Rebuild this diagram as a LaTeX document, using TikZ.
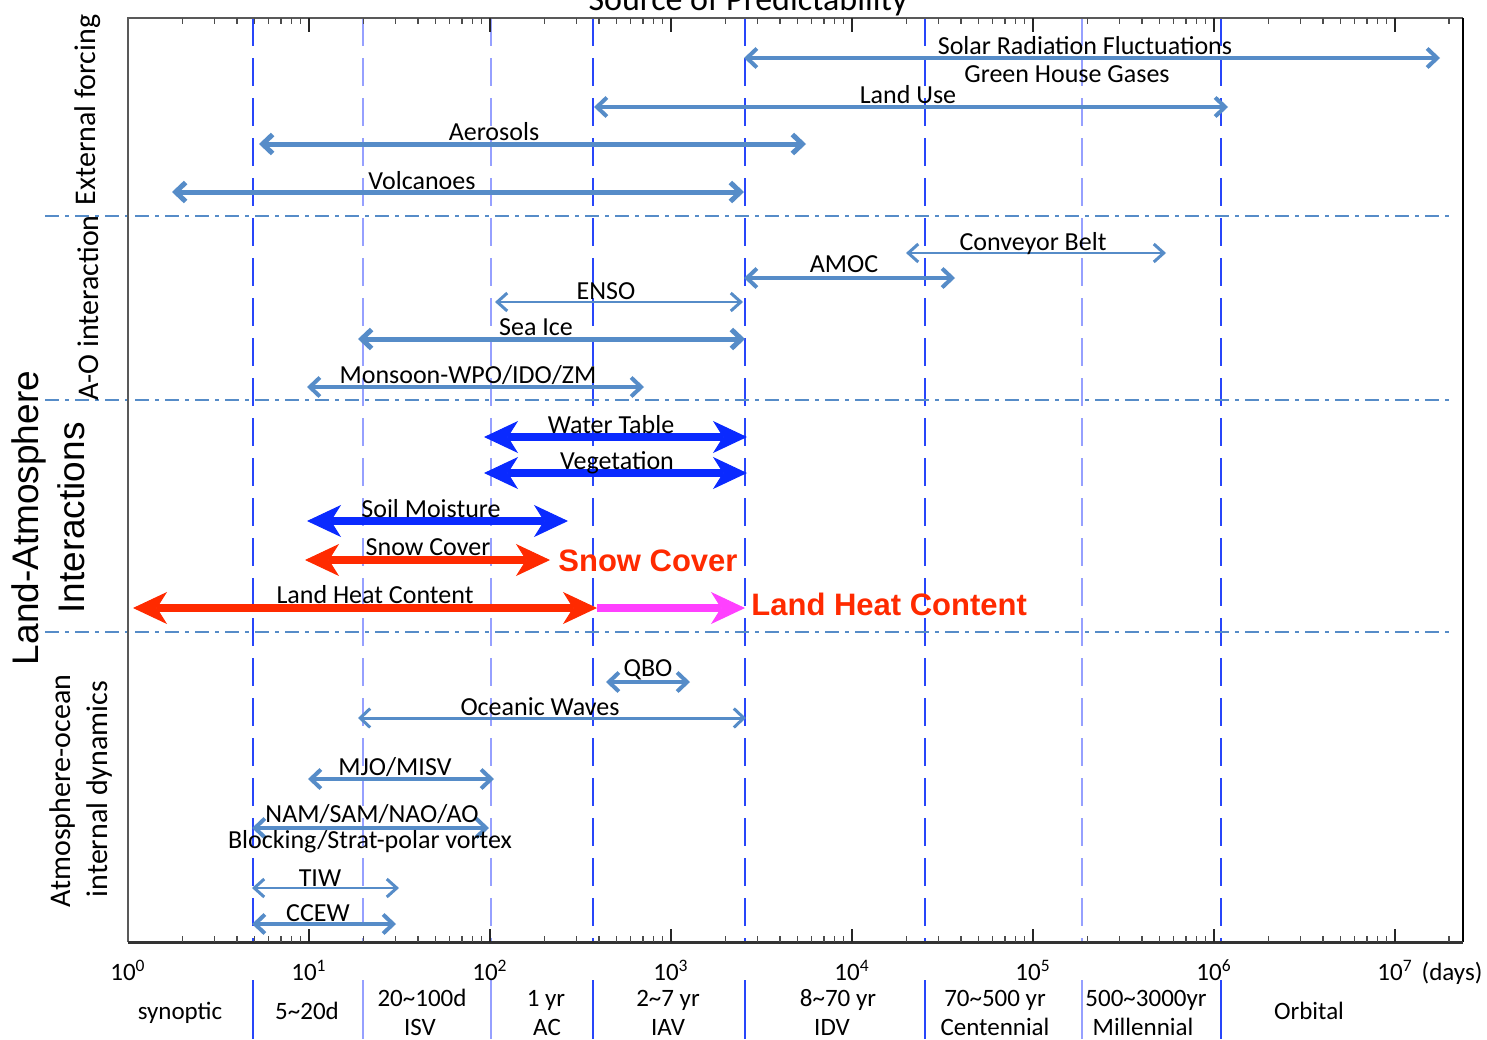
\documentclass[tikz,border=0pt]{standalone}
\usepackage{fontspec}
\setmainfont{Carlito}
\newfontfamily\arl{Liberation Sans}
\usetikzlibrary{arrows.meta}
\definecolor{steel}{RGB}{86,140,200}
\definecolor{landblue}{RGB}{10,42,255}
\definecolor{landred}{RGB}{255,42,0}
\definecolor{landpink}{RGB}{255,64,255}
\definecolor{gridblue}{RGB}{40,70,250}
\definecolor{gridlite}{RGB}{150,160,255}

\begin{document}
\begin{tikzpicture}[x=0.5pt,y=-0.5pt,
 barb/.tip={Straight Barb[length=5pt,width=9.5pt]},
 thinbarb/.tip={Straight Barb[length=5pt,width=9pt,line width=1.5pt]},
 fat/.tip={Stealth[length=17pt,width=16pt,inset=5pt,line width=0.5pt]},
 sarr/.style={draw=steel,line width=2pt,barb-barb},
 sthin/.style={draw=steel,line width=1pt,thinbarb-thinbarb},
 big/.style={line width=4pt,fat-fat},
 lab/.style={font=\fontsize{13}{15}\selectfont,inner sep=0pt,anchor=base},
 redlab/.style={font=\arl\bfseries\fontsize{15.5}{18}\selectfont,text=landred,inner sep=0pt,anchor=base west},
 catlab/.style={font=\fontsize{12.5}{15}\selectfont,inner sep=0pt,anchor=base},
 sidelab/.style={font=\fontsize{15}{18}\selectfont,inner sep=0pt,rotate=90},
 bigside/.style={font=\arl\fontsize{18.5}{22}\selectfont,inner sep=0pt,rotate=90}]
\useasboundingbox (0,0) rectangle (1487,1039);
% title, cut at the top edge
\node[font=\fontsize{17}{20}\selectfont,inner sep=0pt,anchor=base] (title) at (748,10) {Source of Predictability};
% time-scale grid
\foreach \gx/\gc in {253/gridblue,363/gridlite,491/gridlite,593/gridblue,745/gridblue,925/gridblue,1082/gridlite,1221/gridblue}{
 \draw[\gc,line width=1pt,dash pattern=on 14pt off 6pt] (\gx,18) -- (\gx,942);
 \draw[\gc,line width=1pt] (\gx,980) -- (\gx,1039);
}
\foreach \hy in {216,400,632}
 \draw[steel,line width=1pt,dash pattern=on 7pt off 3pt on 2pt off 3pt] (45,\hy) -- (1452,\hy);
% frame and log ticks
\draw[gray!70!black,line width=0.6pt] (128,942) -- (128,18) -- (1463,18);
\draw[black,line width=1.2pt] (1463,18) -- (1463,942);
\draw[gray!40!black,line width=1.5pt] (128,942) -- (1463,942);
\foreach \dec in {0,...,6}{
 \foreach \k in {2,...,9}{
  \pgfmathsetmacro\tx{128+181*(\dec+log10(\k))}
  \draw[gray!60!black,line width=0.6pt] (\tx,18) -- ++(0,6) (\tx,942) -- ++(0,-6);
 }
 \pgfmathsetmacro\mx{128+181*(\dec+1)}
 \draw[gray!30!black,line width=0.8pt] (\mx,18) -- ++(0,14) (\mx,942) -- ++(0,-13);
}
\draw[gray!60!black,line width=0.6pt] (1449,18) -- ++(0,6) (1449,942) -- ++(0,-6);
\foreach \e in {0,...,7}
 \node[catlab] (t\e) at ({128+181*\e},980) {10\textsuperscript{\e}};
\node[catlab] (days) at (1452,980) {(days)};
% side titles
\node[sidelab] (ext) at (88,110) {External forcing};
\node[sidelab] (ao) at (88,308) {A-O interaction};
\node[bigside] (la1) at (29,518) {Land-Atmosphere};
\node[bigside] (la2) at (71,518) {Interactions};
\node[sidelab] (ai1) at (63,791) {Atmosphere-ocean};
\node[sidelab] (ai2) at (99,789) {internal dynamics};
% external forcing
\coordinate (sol-l) at (744,58); \coordinate (sol-r) at (1440,58);
\draw[sarr] (sol-l) -- (sol-r);
\node[lab] (sol) at (1085,54) {Solar Radiation Fluctuations};
\node[lab] (ghg) at (1067,82) {Green House Gases};
\coordinate (use-l) at (594,107); \coordinate (use-r) at (1228,107);
\draw[sarr] (use-l) -- (use-r);
\node[lab] (use) at (908,103) {Land Use};
\coordinate (aer-l) at (259,144); \coordinate (aer-r) at (806,144);
\draw[sarr,line width=2.5pt] (aer-l) -- (aer-r);
\node[lab] (aer) at (494,140) {Aerosols};
\coordinate (vol-l) at (172,192); \coordinate (vol-r) at (744,192);
\draw[sarr,line width=2.5pt] (vol-l) -- (vol-r);
\node[lab] (vol) at (422,189) {Volcanoes};
% atmosphere-ocean interaction
\coordinate (cb-l) at (906,253); \coordinate (cb-r) at (1166,253);
\draw[sthin] (cb-l) -- (cb-r);
\node[lab] (cb) at (1033,250) {Conveyor Belt};
\coordinate (amoc-l) at (744,278); \coordinate (amoc-r) at (955,278);
\draw[sarr] (amoc-l) -- (amoc-r);
\node[lab] (amoc) at (844,272) {AMOC};
\coordinate (enso-l) at (495,302); \coordinate (enso-r) at (743,302);
\draw[sthin] (enso-l) -- (enso-r);
\node[lab] (enso) at (606,299) {ENSO};
\coordinate (ice-l) at (358,339); \coordinate (ice-r) at (745,339);
\draw[sarr,line width=2.5pt] (ice-l) -- (ice-r);
\node[lab] (ice) at (536,335) {Sea Ice};
\coordinate (mon-l) at (307,387); \coordinate (mon-r) at (644,387);
\draw[sarr] (mon-l) -- (mon-r);
\node[lab] (mon) at (468,383) {Monsoon-WPO/IDO/ZM};
% land-atmosphere interactions
\coordinate (wt-l) at (484,437); \coordinate (wt-r) at (747,437);
\draw[big,landblue] (wt-l) -- (wt-r);
\node[lab] (wt) at (611,433) {Water Table};
\coordinate (veg-l) at (484,473); \coordinate (veg-r) at (747,473);
\draw[big,landblue] (veg-l) -- (veg-r);
\node[lab] (veg) at (617,469) {Vegetation};
\coordinate (sm-l) at (307,521); \coordinate (sm-r) at (568,521);
\draw[big,landblue] (sm-l) -- (sm-r);
\node[lab] (sm) at (431,517) {Soil Moisture};
\coordinate (snow-l) at (305,560); \coordinate (snow-r) at (550,560);
\draw[big,landred] (snow-l) -- (snow-r);
\node[lab] (snow) at (428,555) {Snow Cover};
\node[redlab] (snowred) at (558,571) {Snow Cover};
\coordinate (lhc-l) at (133,608); \coordinate (lhc-m) at (597,608); \coordinate (lhc-r) at (745,608);
\draw[line width=4pt,landpink,-fat] (lhc-m) -- (lhc-r);
\draw[big,landred] (lhc-l) -- (lhc-m);
\node[lab] (lhc) at (375,603) {Land Heat Content};
\node[redlab] (lhcred) at (751,615) {Land Heat Content};
% atmosphere-ocean internal dynamics
\coordinate (qbo-l) at (606,682); \coordinate (qbo-r) at (690,682);
\draw[sarr] (qbo-l) -- (qbo-r);
\node[lab] (qbo) at (648,676) {QBO};
\coordinate (ow-l) at (358,718); \coordinate (ow-r) at (746,718);
\draw[sarr,line width=1.5pt] (ow-l) -- (ow-r);
\node[lab] (ow) at (540,715) {Oceanic Waves};
\coordinate (mjo-l) at (308,779); \coordinate (mjo-r) at (494,779);
\draw[sarr] (mjo-l) -- (mjo-r);
\node[lab] (mjo) at (395,775) {MJO/MISV};
\coordinate (nam-l) at (252,828); \coordinate (nam-r) at (489,828);
\draw[sarr] (nam-l) -- (nam-r);
\node[lab] (nam) at (372,822) {NAM/SAM/NAO/AO};
\node[lab] (blk) at (370,848) {Blocking/Strat-polar vortex};
\coordinate (tiw-l) at (252,888); \coordinate (tiw-r) at (399,888);
\draw[sthin] (tiw-l) -- (tiw-r);
\node[lab] (tiw) at (320,886) {TIW};
\coordinate (ccew-l) at (252,924); \coordinate (ccew-r) at (396,924);
\draw[sarr] (ccew-l) -- (ccew-r);
\node[lab] (ccew) at (318,921) {CCEW};
% time-scale bands
\node[catlab] (syn) at (180,1019) {synoptic};
\node[catlab] (isv0) at (307,1019) {5\textasciitilde20d};
\node[catlab] (isv1) at (422,1006) {20\textasciitilde100d};
\node[catlab] (isv2) at (420,1035) {ISV};
\node[catlab] (ac1) at (546,1006) {1 yr};
\node[catlab] (ac2) at (547,1035) {AC};
\node[catlab] (iav1) at (668,1006) {2\textasciitilde7 yr};
\node[catlab] (iav2) at (668,1035) {IAV};
\node[catlab] (idv1) at (838,1006) {8\textasciitilde70 yr};
\node[catlab] (idv2) at (832,1035) {IDV};
\node[catlab] (cen1) at (995,1006) {70\textasciitilde500 yr};
\node[catlab] (cen2) at (995,1035) {Centennial};
\node[catlab] (mil1) at (1146,1006) {500\textasciitilde3000yr};
\node[catlab] (mil2) at (1143,1035) {Millennial};
\node[catlab] (orb) at (1309,1019) {Orbital};
\end{tikzpicture}
\end{document}
